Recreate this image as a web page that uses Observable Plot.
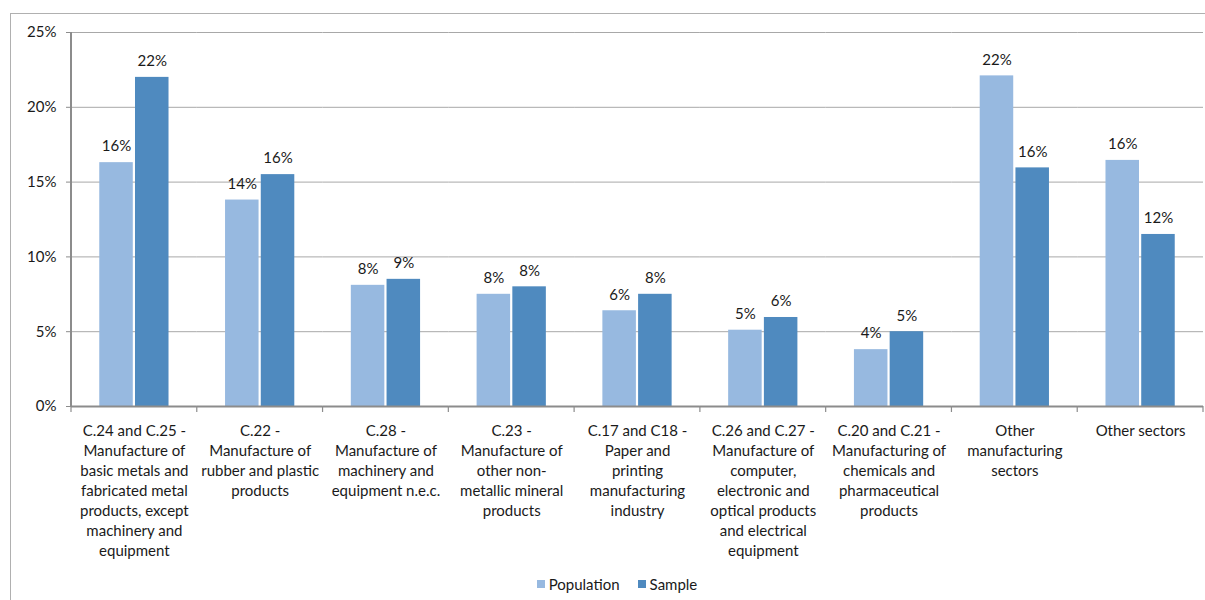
<!DOCTYPE html>
<html>
<head>
<meta charset="utf-8">
<script src="https://cdn.jsdelivr.net/npm/d3@7"></script>
<script src="https://cdn.jsdelivr.net/npm/@observablehq/plot@0.6"></script>
<style>
  html, body { margin: 0; padding: 0; background: #fff; }
  body { width: 1205px; height: 600px; position: relative; overflow: hidden; font-family: Lato, "Open Sans", sans-serif; }
  #frame { position: absolute; left: 10px; top: 13px; width: 1300px; height: 700px; border-left: 1px solid #b0b0b0; border-top: 1px solid #b0b0b0; }
  #chart { position: absolute; left: 0; top: 0; }
  #legend { position: absolute; left: 0; width: 1234px; top: 575px; display: flex; justify-content: center; gap: 18px; font-size: 15px; color: #1a1a1a; }
  #legend .item { display: flex; align-items: center; gap: 4px; }
  #legend .sw { width: 8px; height: 8px; display: inline-block; }
</style>
</head>
<body>
<div id="frame"></div>
<div id="chart"></div>
<div id="legend"></div>
<script>
const categories = [
  "C.24 and C.25 -\nManufacture of\nbasic metals and\nfabricated metal\nproducts, except\nmachinery and\nequipment",
  "C.22 -\nManufacture of\nrubber and plastic\nproducts",
  "C.28 -\nManufacture of\nmachinery and\nequipment n.e.c.",
  "C.23 -\nManufacture of\nother non-\nmetallic mineral\nproducts",
  "C.17 and C18 -\nPaper and\nprinting\nmanufacturing\nindustry",
  "C.26 and C.27 -\nManufacture of\ncomputer,\nelectronic and\noptical products\nand electrical\nequipment",
  "C.20 and C.21 -\nManufacturing of\nchemicals and\npharmaceutical\nproducts",
  "Other\nmanufacturing\nsectors",
  "Other sectors"
];
const seriesNames = ["Population", "Sample"];
const population = [16.3, 13.8, 8.1, 7.5, 6.4, 5.1, 3.8, 22.1, 16.45];
const sample = [22.0, 15.5, 8.5, 8.0, 7.5, 5.95, 5.0, 15.95, 11.5];
const seriesColors = ["#97b9e0", "#4f8abf"];
const yTicks = [0, 5, 10, 15, 20, 25];

const rows = [];
categories.forEach((c, i) => {
  rows.push({cat: c, series: seriesNames[0], value: population[i]});
  rows.push({cat: c, series: seriesNames[1], value: sample[i]});
});

const W = 1205, H = 570;
const chart = Plot.plot({
  width: W,
  height: H,
  marginLeft: 71,
  marginRight: 2,
  marginTop: 32,
  marginBottom: 164,
  style: {fontFamily: "Lato, 'Open Sans', sans-serif", fontSize: "15px", color: "#1a1a1a", background: "transparent", overflow: "visible"},
  fx: {domain: categories, paddingInner: 0, paddingOuter: 0, round: false, axis: null, label: null},
  x: {domain: seriesNames, paddingInner: 0.02, paddingOuter: 0.77, round: false, axis: null},
  y: {domain: [0, 25], axis: null},
  color: {domain: seriesNames, range: seriesColors},
  marks: [
    Plot.gridY(yTicks, {stroke: "#a8a8a8", strokeOpacity: 1, strokeWidth: 1}),
    Plot.barY(rows, {fx: "cat", x: "series", y: "value", fill: "series", insetLeft: 0.75, insetRight: 0.75}),
    Plot.text(rows, {fx: "cat", x: "series", y: "value", text: d => Math.round(d.value) + "%", lineAnchor: "middle", dy: -16, fontSize: 15, fill: "#1a1a1a"}),
    Plot.ruleY([0], {stroke: "#8c8c8c", strokeWidth: 2}),
    Plot.axisY({ticks: yTicks, tickFormat: d => d + "%", tickSize: 5, tickPadding: 10, label: null, stroke: "#8c8c8c", fontSize: 15}),
    Plot.axisFx({anchor: "bottom", tickSize: 0, tickPadding: 15, lineHeight: 1.34, label: null, fontSize: 15, tickFormat: d => d})
  ]
});
document.getElementById("chart").appendChild(chart);

// Axis line and category boundary ticks from the library's scales
const fx = chart.scale("fx");
const y = chart.scale("y");
const svg = d3.select(chart);
const g = svg.append("g").attr("stroke", "#8c8c8c");
g.append("line")
  .attr("x1", fx.range[0]).attr("x2", fx.range[0])
  .attr("y1", y.apply(25)).attr("y2", y.apply(0))
  .attr("stroke-width", 2);
const bounds = categories.map(c => fx.apply(c)).concat([fx.range[1]]);
g.selectAll("line.tk").data(bounds).join("line").attr("class", "tk")
  .attr("x1", d => d).attr("x2", d => d)
  .attr("y1", y.apply(0)).attr("y2", y.apply(0) + 6)
  .attr("stroke-width", 1.2);

// Legend
const legend = d3.select("#legend");
seriesNames.forEach((s, i) => {
  const it = legend.append("div").attr("class", "item");
  it.append("span").attr("class", "sw").style("background", seriesColors[i]);
  it.append("span").text(s);
});
</script>
</body>
</html>
